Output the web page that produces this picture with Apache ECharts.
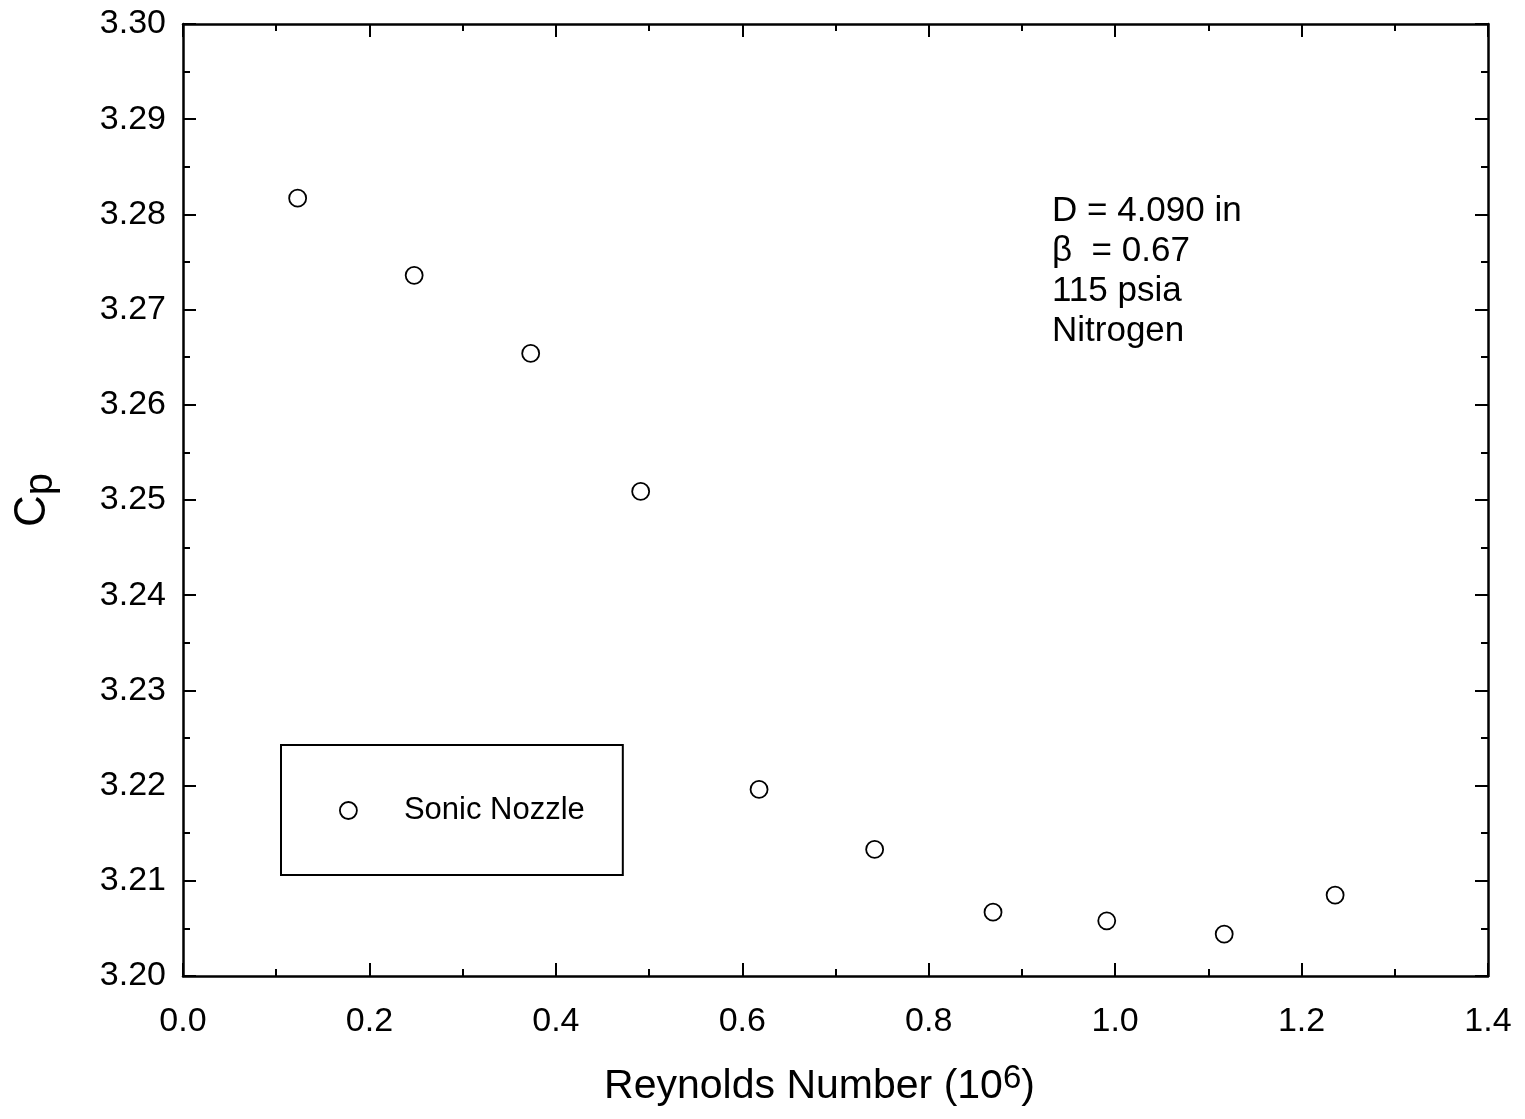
<!DOCTYPE html>
<html>
<head>
<meta charset="utf-8">
<script src="https://cdn.jsdelivr.net/npm/echarts@6/dist/echarts.min.js"></script>
<style>
  html, body { margin: 0; padding: 0; background: #fff; }
  #chart { width: 1525px; height: 1119px; }
</style>
</head>
<body>
<div id="chart"></div>
<script>
// Reynolds number (millions) and discharge coefficient Cp for the sonic nozzle runs
const reynolds = [0.123, 0.248, 0.373, 0.491, 0.618, 0.742, 0.869, 0.991, 1.117, 1.236];
const cpValues = [3.2817, 3.2736, 3.2654, 3.2509, 3.2196, 3.2133, 3.2067, 3.2058, 3.2044, 3.2085];
const seriesName = 'Sonic Nozzle';
const noteLines = ['D = 4.090 in', 'β  = 0.67', '115 psia', 'Nitrogen'];

const FONT = '"Liberation Sans", Arial, Helvetica, sans-serif';
const INK = '#000';

const xRange = { min: 0, max: 1.4, interval: 0.2 };
const yRange = { min: 3.20, max: 3.30, interval: 0.01 };

function frameAxis(base, showLabels, extra) {
  return Object.assign({
    type: 'value',
    min: base.min,
    max: base.max,
    interval: base.interval,
    axisLine: { show: true, onZero: false, lineStyle: { color: INK, width: 2.5 } },
    axisTick: { show: true, inside: true, length: 13, lineStyle: { color: INK, width: 2 } },
    minorTick: { show: true, splitNumber: 2, length: 7, lineStyle: { color: INK, width: 2 } },
    splitLine: { show: false },
    minorSplitLine: { show: false },
    axisLabel: { show: showLabels }
  }, extra);
}

const chart = echarts.init(document.getElementById('chart'), null, { renderer: 'canvas' });

chart.setOption({
  backgroundColor: '#fff',
  animation: false,
  grid: { left: 183, right: 37, top: 24, bottom: 143, containLabel: false },
  xAxis: [
    frameAxis(xRange, true, {
      position: 'bottom',
      axisLabel: {
        show: true, margin: 29, color: INK, fontFamily: FONT, fontSize: 34,
        formatter: v => v.toFixed(1)
      },
      name: 'Reynolds Number (10{sup|6})',
      nameLocation: 'middle',
      nameGap: 86,
      nameTextStyle: {
        color: INK, fontFamily: FONT, fontSize: 41,
        padding: [0, 32, 0, 0],
        rich: { sup: { fontFamily: FONT, fontSize: 33, color: INK, verticalAlign: 'top', padding: [0, 0, 17, 0] } }
      }
    }),
    frameAxis(xRange, false, { position: 'top' })
  ],
  yAxis: [
    frameAxis(yRange, true, {
      position: 'left',
      axisLabel: {
        show: true, margin: 17, color: INK, fontFamily: FONT, fontSize: 34,
        formatter: v => v.toFixed(2)
      },
      name: 'C{sub|p}',
      nameLocation: 'middle',
      nameGap: 122,
      nameRotate: 90,
      nameTextStyle: {
        color: INK, fontFamily: FONT, fontSize: 44,
        rich: { sub: { fontFamily: FONT, fontSize: 40, color: INK, padding: [16, 0, 0, 0] } }
      }
    }),
    frameAxis(yRange, false, { position: 'right' })
  ],
  legend: {
    show: true,
    left: 281,
    top: 745,
    orient: 'vertical',
    padding: [50, 38, 49, 58],
    borderColor: INK,
    borderWidth: 2,
    backgroundColor: '#fff',
    itemWidth: 17,
    itemHeight: 17,
    icon: 'circle',
    itemStyle: { color: '#fff', borderColor: INK, borderWidth: 1.8 },
    textStyle: { color: INK, fontFamily: FONT, fontSize: 31, padding: [8, 0, 0, 42] },
    data: [seriesName]
  },
  graphic: [
    {
      type: 'text',
      left: 1052,
      top: 191,
      style: {
        text: noteLines.join('\n'),
        fill: INK,
        font: '35px ' + FONT,
        lineHeight: 40
      }
    }
  ],
  series: [
    {
      name: seriesName,
      type: 'scatter',
      xAxisIndex: 0,
      yAxisIndex: 0,
      symbol: 'circle',
      symbolSize: 17,
      itemStyle: { color: '#fff', borderColor: INK, borderWidth: 1.8, opacity: 1 },
      data: reynolds.map((r, i) => [r, cpValues[i]])
    }
  ]
});
</script>
</body>
</html>
